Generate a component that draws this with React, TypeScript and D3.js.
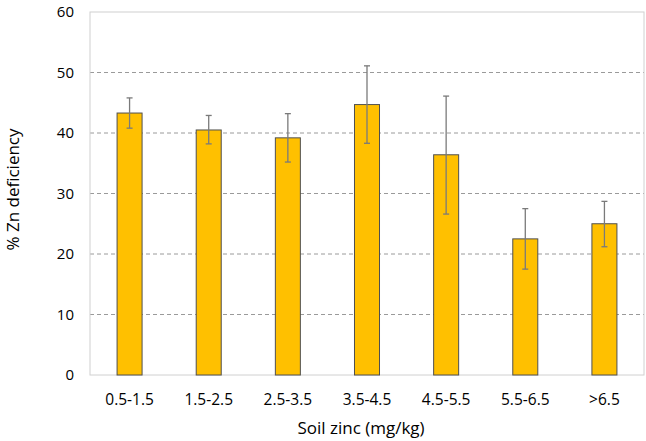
import React, { useEffect, useRef } from "react";
import * as d3 from "d3";

const categories = ["0.5-1.5", "1.5-2.5", "2.5-3.5", "3.5-4.5", "4.5-5.5", "5.5-6.5", ">6.5"];
const values = [43.3, 40.5, 39.2, 44.7, 36.4, 22.5, 25.0];
const errUpper = [45.8, 42.9, 43.2, 51.1, 46.1, 27.5, 28.7];
const errLower = [40.8, 38.2, 35.2, 38.3, 26.6, 17.5, 21.2];
const yTicks = [0, 10, 20, 30, 40, 50, 60];

const FONT = '"Open Sans", "Liberation Sans", sans-serif';

const App = () => {
  const svgRef = useRef<SVGSVGElement>(null);

  useEffect(() => {
    if (!svgRef.current) return;
    const width = 646;
    const height = 441;
    const margin = { top: 12, right: 2, bottom: 66, left: 90 };
    const innerWidth = width - margin.left - margin.right;
    const innerHeight = height - margin.top - margin.bottom;

    const svg = d3.select(svgRef.current).attr("width", width).attr("height", height);
    svg.selectAll("*").remove();

    const x = d3.scaleBand().domain(categories).range([0, innerWidth]).paddingInner(0.684).paddingOuter(0.342);
    const y = d3.scaleLinear().domain([0, 60]).range([innerHeight, 0]);

    const g = svg.append("g").attr("transform", `translate(${margin.left},${margin.top})`);

    // gridlines
    g.selectAll("line.grid")
      .data(yTicks.filter((t) => t > 0 && t < 60))
      .enter()
      .append("line")
      .attr("x1", 0)
      .attr("x2", innerWidth)
      .attr("y1", (d) => y(d))
      .attr("y2", (d) => y(d))
      .attr("stroke", "#9a9a9a")
      .attr("stroke-width", 1)
      .attr("stroke-dasharray", "4,3");

    // plot border
    g.append("rect")
      .attr("x", 0)
      .attr("y", 0)
      .attr("width", innerWidth)
      .attr("height", innerHeight)
      .attr("fill", "none")
      .attr("stroke", "#d0d0d0")
      .attr("stroke-width", 1);

    // bars
    g.selectAll("rect.bar")
      .data(values)
      .enter()
      .append("rect")
      .attr("x", (d, i) => x(categories[i])!)
      .attr("y", (d) => y(d))
      .attr("width", x.bandwidth())
      .attr("height", (d) => innerHeight - y(d))
      .attr("fill", "#FFC000")
      .attr("stroke", "#505050")
      .attr("stroke-width", 1);

    // error bars
    const cap = 3;
    categories.forEach((c, i) => {
      const cx = x(c)! + x.bandwidth() / 2;
      const eg = g.append("g").attr("stroke", "#7a7a7a").attr("stroke-width", 1.3);
      eg.append("line").attr("x1", cx).attr("x2", cx).attr("y1", y(errUpper[i])).attr("y2", y(errLower[i]));
      eg.append("line").attr("x1", cx - cap).attr("x2", cx + cap).attr("y1", y(errUpper[i])).attr("y2", y(errUpper[i]));
      eg.append("line").attr("x1", cx - cap).attr("x2", cx + cap).attr("y1", y(errLower[i])).attr("y2", y(errLower[i]));
    });

    // y tick labels
    g.selectAll("text.ytick")
      .data(yTicks)
      .enter()
      .append("text")
      .attr("x", -16)
      .attr("y", (d) => y(d))
      .attr("dy", "0.35em")
      .attr("text-anchor", "end")
      .style("font-family", FONT)
      .style("font-size", "15px")
      .style("fill", "#000")
      .text((d) => d);

    // x tick labels
    g.selectAll("text.xtick")
      .data(categories)
      .enter()
      .append("text")
      .attr("x", (d) => x(d)! + x.bandwidth() / 2)
      .attr("y", innerHeight + 30)
      .attr("text-anchor", "middle")
      .style("font-family", FONT)
      .style("font-size", "15.5px")
      .style("fill", "#000")
      .text((d) => d);

    // x axis title
    svg.append("text")
      .attr("x", 361)
      .attr("y", 434)
      .attr("text-anchor", "middle")
      .style("font-family", FONT)
      .style("font-size", "17px")
      .style("fill", "#000")
      .text("Soil zinc (mg/kg)");

    // y axis title
    svg.append("text")
      .attr("transform", `translate(19,${margin.top + innerHeight / 2 - 4}) rotate(-90)`)
      .attr("text-anchor", "middle")
      .style("font-family", FONT)
      .style("font-size", "17px")
      .style("fill", "#000")
      .text("% Zn deficiency");
  }, []);

  return (
    <div style={{ position: "absolute", left: 0, top: 0 }}>
      <svg ref={svgRef}></svg>
    </div>
  );
};

export default App;
